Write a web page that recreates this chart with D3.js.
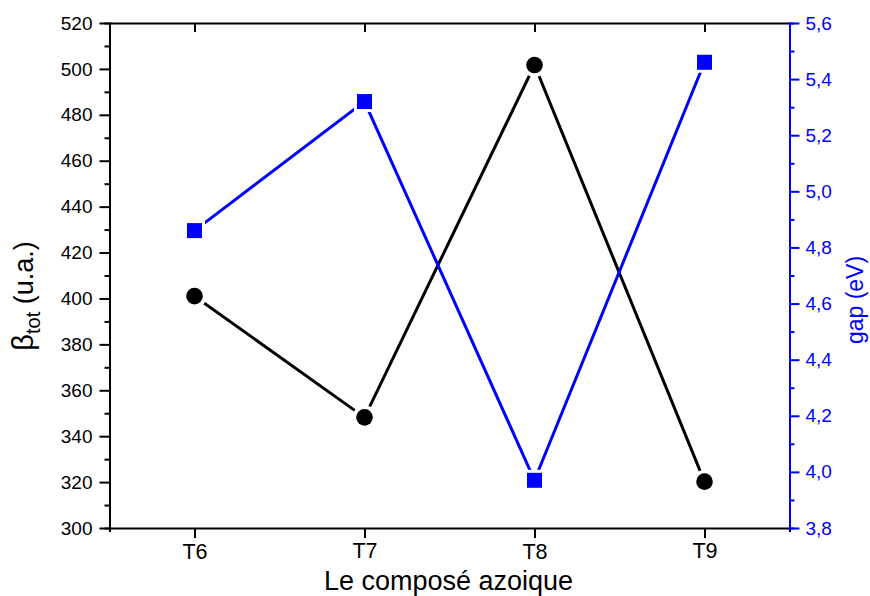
<!DOCTYPE html>
<html>
<head>
<meta charset="utf-8">
<script src="https://cdn.jsdelivr.net/npm/d3@7"></script>
<style>
  html, body { margin: 0; padding: 0; background: #fff; }
  svg { display: block; font-family: "Liberation Sans", Arial, sans-serif; }
</style>
</head>
<body>
<svg id="chart" width="870" height="596"></svg>
<script>
// ---- data ----
const categories = ["T6", "T7", "T8", "T9"];
const betaValues = [401, 348.2, 501.7, 320.2];   // βtot (u.a.) – left axis
const gapValues  = [4.86, 5.32, 3.97, 5.46];     // gap (eV) – right axis
const leftTicks  = [300, 320, 340, 360, 380, 400, 420, 440, 460, 480, 500, 520];
const leftMinor  = [310, 330, 350, 370, 390, 410, 430, 450, 470, 490, 510];
const rightTicks = [3.8, 4.0, 4.2, 4.4, 4.6, 4.8, 5.0, 5.2, 5.4, 5.6];
const rightMinor = [3.9, 4.1, 4.3, 4.5, 4.7, 4.9, 5.1, 5.3, 5.5];

const svg = d3.select("#chart");
const L = 109.5, R = 789.5, T = 23, B = 528;
const BLUE = "#0000ff";

const x = d3.scalePoint().domain(categories).range([L, R]).padding(0.5);
const yL = d3.scaleLinear().domain([300, 520]).range([B, T]);
const yR = d3.scaleLinear().domain([3.8, 5.6]).range([B, T]);

const commaFmt = v => d3.format(".1f")(v).replace(".", ",");

function styleAxis(g, color, fs) {
  g.attr("font-size", fs).attr("font-family", "'Liberation Sans', Arial, sans-serif");
  g.selectAll("path.domain").attr("stroke", color).attr("stroke-width", 2);
  g.selectAll(".tick line").attr("stroke", color).attr("stroke-width", 2);
  g.selectAll(".tick text").attr("fill", color).attr("font-size", fs);
}

// top axis (frame)
const gTop = svg.append("g").attr("transform", `translate(0,${T})`)
  .call(d3.axisTop(x).tickSizeInner(-9).tickSizeOuter(0).tickFormat(""));
styleAxis(gTop, "#000", 20);

// bottom axis
const gBot = svg.append("g").attr("transform", `translate(0,${B})`)
  .call(d3.axisBottom(x).tickSizeInner(10).tickSizeOuter(4).tickPadding(5));
styleAxis(gBot, "#000", 21.5);
gBot.selectAll(".tick text").attr("dy", (d, i) => i % 2 === 0 ? "0.75em" : "0.68em");

// left axis minor + major
const gLm = svg.append("g").attr("transform", `translate(${L},0)`)
  .call(d3.axisLeft(yL).tickValues(leftMinor).tickSize(5).tickFormat(""));
styleAxis(gLm, "#000", 19);
const gL = svg.append("g").attr("transform", `translate(${L},0)`)
  .call(d3.axisLeft(yL).tickValues(leftTicks).tickSizeInner(10).tickSizeOuter(0).tickPadding(7));
styleAxis(gL, "#000", 19);

// right axis minor + major
const gRm = svg.append("g").attr("transform", `translate(${R},0)`)
  .call(d3.axisRight(yR).tickValues(rightMinor).tickSize(5).tickFormat(""));
styleAxis(gRm, BLUE, 19);
const gR = svg.append("g").attr("transform", `translate(${R},0)`)
  .call(d3.axisRight(yR).tickValues(rightTicks).tickSizeInner(10).tickSizeOuter(0).tickPadding(6).tickFormat(commaFmt));
styleAxis(gR, BLUE, 19);

// series 1 : beta (black circles)
const lineL = d3.line().x((d, i) => x(categories[i])).y(d => yL(d));
svg.append("path").datum(betaValues).attr("d", lineL)
  .attr("fill", "none").attr("stroke", "#000").attr("stroke-width", 3);
svg.append("g").selectAll("circle").data(betaValues).join("circle")
  .attr("cx", (d, i) => x(categories[i])).attr("cy", d => yL(d)).attr("r", 12).attr("fill", "#fff");
svg.append("g").selectAll("circle").data(betaValues).join("circle")
  .attr("cx", (d, i) => x(categories[i])).attr("cy", d => yL(d)).attr("r", 8.3).attr("fill", "#000");

// series 2 : gap (blue squares)
const lineR = d3.line().x((d, i) => x(categories[i])).y(d => yR(d));
svg.append("path").datum(gapValues).attr("d", lineR)
  .attr("fill", "none").attr("stroke", BLUE).attr("stroke-width", 3);
svg.append("g").selectAll("rect").data(gapValues).join("rect")
  .attr("x", (d, i) => x(categories[i]) - 10.5).attr("y", d => yR(d) - 10.5)
  .attr("width", 21).attr("height", 21).attr("fill", "#fff");
svg.append("g").selectAll("rect").data(gapValues).join("rect")
  .attr("x", (d, i) => x(categories[i]) - 7.5).attr("y", d => yR(d) - 7.5)
  .attr("width", 15).attr("height", 15).attr("fill", BLUE);

// axis titles
svg.append("text").attr("x", (L + R) / 2 - 1).attr("y", 589.5)
  .attr("text-anchor", "middle").attr("font-size", 27).attr("fill", "#000")
  .text("Le composé azoique");

const yt = svg.append("text").attr("transform", "translate(33,296) rotate(-90)")
  .attr("text-anchor", "middle").attr("font-size", 27).attr("fill", "#000");
yt.append("tspan").attr("font-size", 29).text("β");
yt.append("tspan").attr("font-size", 20).attr("dy", 7).text("tot");
yt.append("tspan").attr("dy", -7).text(" (u.a.)");

svg.append("text").attr("transform", "translate(863,300) rotate(-90)")
  .attr("text-anchor", "middle").attr("font-size", 23).attr("fill", BLUE)
  .text("gap (eV)");
</script>
</body>
</html>
